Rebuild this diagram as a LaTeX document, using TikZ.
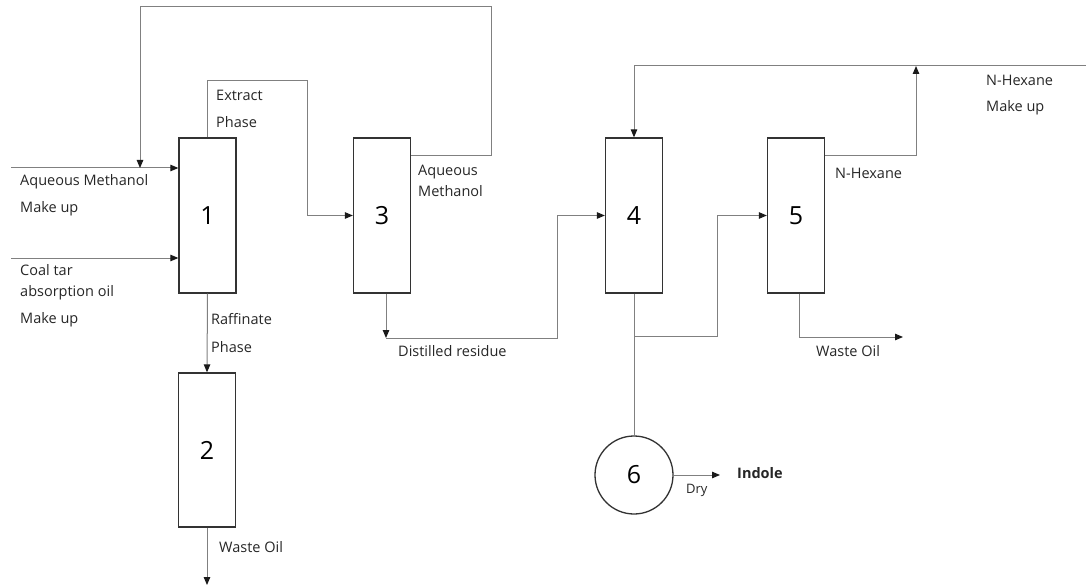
\documentclass[tikz,border=0pt]{standalone}
\usepackage{fontspec}
\setmainfont{Open Sans}
\usetikzlibrary{arrows.meta}
\definecolor{linegray}{HTML}{808080}
\definecolor{boxgray}{HTML}{333333}
\definecolor{tipgray}{HTML}{1a1a1a}
\begin{document}
\begin{tikzpicture}[x=1pt,y=-1pt,
  unit/.style={draw=boxgray,line width=1.3pt,fill=white,minimum width=57,minimum height=155,inner sep=0pt,font=\fontsize{25}{29}\selectfont},
  flow/.style={draw=linegray,line width=1pt},
  arr/.style={flow,-{Triangle[length=8pt,width=6.5pt,color=tipgray]}},
  lbl/.style={anchor=west,inner sep=0pt,text height=10.5pt,text depth=3pt,font=\fontsize{14.5}{17}\selectfont,text=black!85}
]
\useasboundingbox (0,0) rectangle (1086,588);
% units
\node[unit] (u1) at (207.5,215.5) {1};
\node[unit] (u3) at (382,215.5) {3};
\node[unit,minimum height=154] (u2) at (207,450) {2};
\node[unit] (u4) at (634,215.5) {4};
\node[unit] (u5) at (796,215.5) {5};
\node[unit,circle,minimum size=78] (u6) at (634,475) {6};
% coordinates
\coordinate (amin) at (11,168);
\coordinate (ctin) at (11,258);
\coordinate (amj) at (140,168);
\coordinate (wo1) at (207,585);
\coordinate (dr) at (386,338);
\coordinate (br) at (634,336);
\coordinate (wo2) at (903,337);
\coordinate (hxj) at (916,66);
\coordinate (hxin) at (1086,66);
\coordinate (ind) at (720,475);
% connectors
\draw[arr] (amin) -- (amin -| u1.west);
\draw[arr] (ctin) -- (ctin -| u1.west);
\draw[arr] (u3.east |- 0,156) -- (491,156) -- (491,7) -- (140,7) -- (amj);
\draw[arr] (u1.north) |- (307,81) |- (u3.west);
\draw[arr] (u1.south) -- (u2.north);
\draw[arr] (u2.south) -- (wo1);
\draw[arr] ([xshift=4pt]u3.south) -- ([xshift=4pt]u3.south |- dr);
\draw[arr] (dr) -- (557,338) |- (u4.west);
\draw[flow] (u4.south) -- (u6.north);
\draw[arr] (br) -- (717,336) |- (u5.west);
\draw[arr] ([xshift=3pt]u5.south) |- (wo2);
\draw[arr] (u5.east |- 0,156) -| (hxj);
\draw[arr] (hxin) -| (u4.north);
\draw[arr] (u6.east) -- (ind);
% labels
\node[lbl] (t1) at (20,182) {Aqueous Methanol};
\node[lbl] (t2) at (20,209) {Make up};
\node[lbl] (t3) at (20,272) {Coal tar};
\node[lbl] (t4) at (20,293) {absorption oil};
\node[lbl] (t5) at (20,320) {Make up};
\node[lbl] (t6) at (216,97) {Extract};
\node[lbl] (t7) at (216,124) {Phase};
\node[lbl] (t8) at (418,172) {Aqueous};
\node[lbl] (t9) at (418,193) {Methanol};
\node[lbl] (t10) at (211,321) {Raffinate};
\node[lbl] (t11) at (211,349) {Phase};
\node[lbl] (t12) at (398,353) {Distilled residue};
\node[lbl] (t13) at (219,549) {Waste Oil};
\node[lbl] (t14) at (835,175) {N-Hexane};
\node[lbl] (t15) at (986,82) {N-Hexane};
\node[lbl] (t16) at (986,108) {Make up};
\node[lbl] (t17) at (816,353) {Waste Oil};
\node[lbl,font=\fontsize{13}{15}\selectfont] (t18) at (686,490) {Dry};
\node[lbl,font=\fontsize{14.5}{17}\selectfont\bfseries] (t19) at (737,475) {Indole};
\end{tikzpicture}
\end{document}
